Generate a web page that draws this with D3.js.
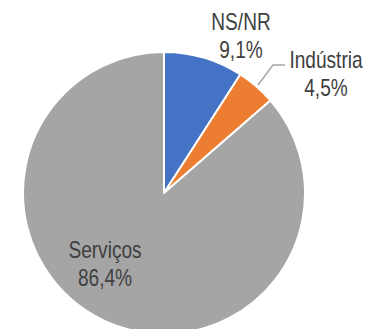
<!DOCTYPE html>
<html>
<head>
<meta charset="utf-8">
<script src="https://cdn.jsdelivr.net/npm/d3@7"></script>
<style>
  html, body { margin: 0; padding: 0; background: #fff; }
  svg { display: block; }
  text { font-family: "Liberation Sans Narrow", "Arial Narrow", "Liberation Sans", sans-serif; fill: #404040; }
</style>
</head>
<body>
<svg id="chart" width="365" height="329"></svg>
<script>
// Sector shares (%), drawn clockwise from 12 o'clock
const categories = ["NS/NR", "Indústria", "Serviços"];
const values = [9.1, 4.5, 86.4];
const labels = ["9,1%", "4,5%", "86,4%"];
const colors = ["#4472C4", "#ED7D31", "#A5A5A5"];

const svg = d3.select("#chart");
const cx = 164, cy = 193, radius = 141;

const pie = d3.pie().sort(null).value(d => d.value);
const arc = d3.arc().innerRadius(0).outerRadius(radius);

const data = categories.map((c, i) => ({ name: c, value: values[i], label: labels[i], color: colors[i] }));
const arcs = pie(data);

const g = svg.append("g").attr("transform", `translate(${cx},${cy})`);

g.selectAll("path")
  .data(arcs)
  .join("path")
  .attr("d", arc)
  .attr("fill", d => d.data.color)
  .attr("stroke", "#fff")
  .attr("stroke-width", 2)
  .attr("stroke-linejoin", "round");

// Label anchor points (relative to pie centre, first-line baseline)
const labelPos = [
  { x: 77, y: -163 },   // NS/NR, outside
  { x: 162, y: -125 },  // Indústria, outside with leader
  { x: -59, y: 65 }     // Serviços, inside
];

// Condensed look: regular sans squeezed horizontally
const squeeze = 0.83;
arcs.forEach((a, i) => {
  const p = labelPos[i];
  const t = g.append("text")
    .attr("text-anchor", "middle")
    .attr("font-size", 23)
    .attr("transform", `translate(${p.x},${p.y}) scale(${squeeze},1)`);
  t.append("tspan").attr("x", 0).attr("y", 0).text(a.data.name);
  t.append("tspan").attr("x", 0).attr("dy", 28).text(a.data.label);
});

// Leader line for the small Indústria slice
g.append("polyline")
  .attr("points", [[94, -108], [109, -128], [121, -128]].map(p => p.join(",")).join(" "))
  .attr("fill", "none")
  .attr("stroke", "#A6A6A6")
  .attr("stroke-width", 1.5);
</script>
</body>
</html>
